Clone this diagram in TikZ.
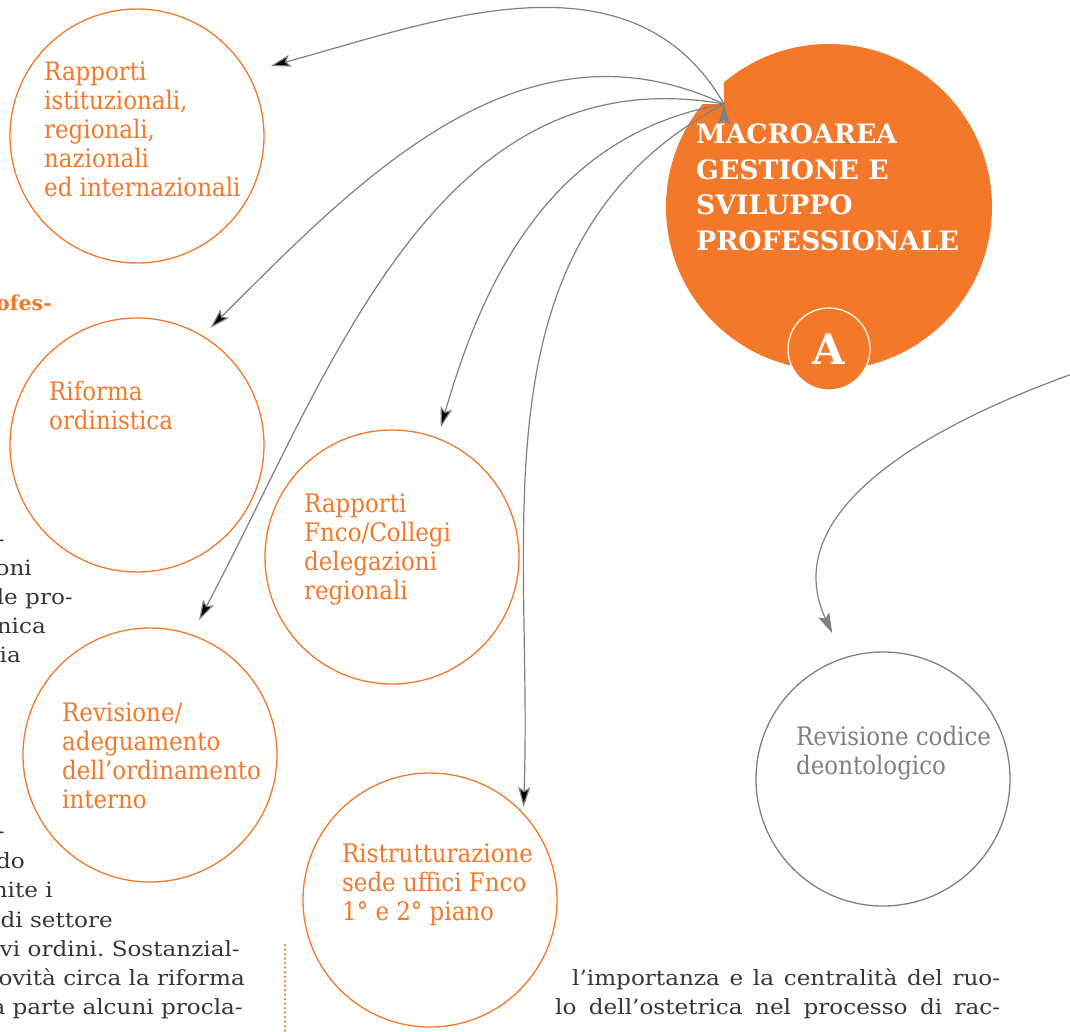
\documentclass[tikz,border=0pt]{standalone}
\usepackage{fontspec}
\setmainfont{DejaVu Serif}
\newfontfamily\condfont{DejaVu Serif Condensed}
\newfontfamily\bodyfont{DejaVu Serif}[FakeStretch=1.1]
\usetikzlibrary{arrows.meta,positioning}

\definecolor{fncorange}{RGB}{243,120,42}
\definecolor{arrowgrey}{RGB}{128,128,132}
\definecolor{bodygrey}{RGB}{55,55,55}

\begin{document}
\begin{tikzpicture}[x=1pt,y=1pt,>={Stealth[length=20pt,width=12pt,inset=4pt]}]
	\tikzstyle{area}=[circle,draw=fncorange,line width=1.3pt,minimum size=254pt,inner sep=0pt]
	\tikzstyle{areatext}=[anchor=base west,align=left,inner sep=0pt,text=fncorange,font=\condfont\fontsize{25.5}{29}\selectfont]
	\tikzstyle{body}=[anchor=base east,inner sep=0pt,text=bodygrey,font=\bodyfont\frenchspacing\fontsize{21}{29}\selectfont]
	\tikzstyle{link}=[->,draw=arrowgrey,line width=1.2pt]
	
	\useasboundingbox (0,0) rectangle (1070,-1031);
	
	% macroarea
	\begin{scope}
		\clip (724,-30) -- (1070,-30) -- (1070,-420) -- (640,-420) -- (640,-104) -- (724,-104) -- cycle;
		\node[circle,fill=fncorange,minimum size=326pt,inner sep=0pt] (macro) at (829,-207) {};
	\end{scope}
	\coordinate (hub) at (724,-104);
	\node[anchor=base west,inner sep=0pt,align=left,text=white,font=\fontsize{26.7}{35.5}\selectfont\bfseries] (macro-t) at (696,-250) {MACROAREA\\GESTIONE E\\SVILUPPO\\PROFESSIONALE};
	\node[circle,fill=fncorange,draw=white,line width=1.2pt,minimum size=82pt,inner sep=0pt,text=white,font=\fontsize{42}{42}\selectfont\bfseries] (lettera) at (829,-349) {A};
	
	% aree
	\node[area] (rapist) at (137,-136) {};
	\node[areatext] (rapist-t) at (44,-196) {Rapporti\\istituzionali,\\regionali,\\nazionali\\ed internazionali};
	\node[area] (riforma) at (137,-445) {};
	\node[areatext] (riforma-t) at (49,-429) {Riforma\\ordinistica};
	\node[area] (fnco) at (392,-557) {};
	\node[areatext] (fnco-t) at (304,-599) {Rapporti\\Fnco/Collegi\\delegazioni\\regionali};
	\node[area] (revadeg) at (150,-755) {};
	\node[areatext] (revadeg-t) at (62,-808) {Revisione/\\adeguamento\\dell’ordinamento\\interno};
	\node[area] (ristr) at (430,-900) {};
	\node[areatext] (ristr-t) at (342,-920) {Ristrutturazione\\sede uffici Fnco\\1° e 2° piano};
	\node[area,draw=arrowgrey] (revcod) at (883,-779) {};
	\node[areatext,text=arrowgrey] (revcod-t) at (796,-774) {Revisione codice\\deontologico};
	
	\coordinate (codstart) at (1072,-374);
	
	\path[link]
	(hub)
	edge [out=120,in=15,shorten >=24pt] (rapist.30)
	edge [out=155,in=45,shorten >=11pt] (riforma.59)
	edge [out=170,in=62,shorten >=16pt] (revadeg.71)
	edge [out=190,in=74,shorten >=11pt] (fnco.69)
	edge [out=208,in=88,shorten >=6pt] (ristr.43);
	\draw[link,shorten >=27pt] (codstart) .. controls (890,-440) and (782,-525) .. (revcod.108);
	
	% testo della pagina
	\node[anchor=base east,inner sep=0pt,text=fncorange,font=\fontsize{20.5}{29}\selectfont\bfseries] (ofes) at (52,-310) {ofes-};
	\node[body] (b1) at (5,-546) {-};
	\node[body] (b2) at (32,-575) {oni};
	\node[body] (b3) at (73,-604) {le pro-};
	\node[body] (b4) at (46,-633) {nica};
	\node[body] (b5) at (21,-662) {ia};
	\node[body] (b6) at (5,-838) {-};
	\node[body] (b7) at (25,-868) {do};
	\node[body] (b8) at (53,-897) {nite i};
	\node[body] (b9) at (113,-927) {di settore};
	\node[body] (b10) at (240,-956) {vi ordini. Sostanzial-};
	\node[body] (b11) at (245,-985) {ovità circa la riforma};
	\node[body] (b12) at (243,-1014) {a parte alcuni procla-};
	\node[body,anchor=base west] (c1) at (572,-985) {\makebox[428pt][s]{l’importanza e la centralità del ruo-}};
	\node[body,anchor=base west] (c2) at (555,-1014) {\makebox[445pt][s]{lo dell’ostetrica nel processo di rac-}};
	
	\draw[fncorange,line width=2.5pt,line cap=round,dash pattern=on 0pt off 4.5pt] (285,-945) -- (285,-1031);
\end{tikzpicture}
\end{document}
